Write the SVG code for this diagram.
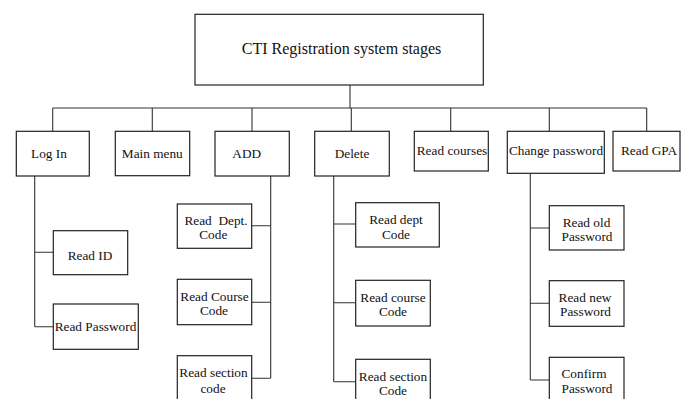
<svg xmlns="http://www.w3.org/2000/svg" width="688" height="399" viewBox="0 0 688 399">
<style>
rect{fill:#fff;stroke:#222;stroke-width:1.2}
.c{fill:none;stroke:#333;stroke-width:1.1}
text{font-family:"Liberation Serif","Times New Roman",serif;font-size:13.3px;fill:#111;text-anchor:middle}
.t{font-size:16px}
</style>
<rect x="0" y="0" width="688" height="399" style="stroke:none"/>
<g id="connectors" class="c">
<path d="M350 85V108M52.7 108H646.7M52.7 108V131.3M152.3 108V131.3M252 108V131.3M351.3 108V131.3M450.7 108V131.3M549.3 108V131.3M646.7 108V131.3"/>
<path d="M34.7 176V326.7M34.7 252.3H53.3M34.7 326.7H53.3"/>
<path d="M270.7 176V378.3M251.7 225.7H270.7M251.7 302.3H270.7M251.7 378.3H270.7"/>
<path d="M333.7 176V381.7M333.7 224H355.7M333.7 302.7H355.7M333.7 381.7H355.7"/>
<path d="M530.3 173.3V380M530.3 228H549.3M530.3 303.3H549.3M530.3 380H549.3"/>
</g>
<g id="root"><rect x="195" y="14.3" width="288.3" height="70.7"/><text class="t" x="341.5" y="53.5">CTI Registration system stages</text></g>
<g id="login"><rect x="16.3" y="131.3" width="73" height="44.7"/><text x="49" y="157.5">Log In</text></g>
<g id="mainmenu"><rect x="115.3" y="131.3" width="74.4" height="44.4"/><text x="152.3" y="158">Main menu</text></g>
<g id="add"><rect x="215" y="131.3" width="74.3" height="44.7"/><text x="246.7" y="157.5">ADD</text></g>
<g id="delete"><rect x="314.7" y="131.3" width="74.6" height="44.7"/><text x="352" y="157.5">Delete</text></g>
<g id="readcourses"><rect x="414.3" y="131.3" width="74" height="39.7"/><text x="452" y="154.5">Read courses</text></g>
<g id="changepassword"><rect x="507.3" y="131.3" width="97" height="42"/><text x="556" y="154.5">Change password</text></g>
<g id="readgpa"><rect x="613" y="131.3" width="67" height="39.7"/><text x="649" y="154.5">Read GPA</text></g>
<g id="readid"><rect x="53.3" y="230.7" width="74.4" height="44"/><text x="90" y="259.5">Read ID</text></g>
<g id="readpassword"><rect x="53.3" y="304" width="85" height="45.3"/><text x="95.5" y="331">Read Password</text></g>
<g id="add-dept"><rect x="177.3" y="204" width="74.4" height="44.3"/><text x="216" y="225" xml:space="preserve">Read  Dept.</text><text x="213.3" y="238.8">Code</text></g>
<g id="add-course"><rect x="177.3" y="279.3" width="74.4" height="45.4"/><text x="214.5" y="301">Read Course</text><text x="214" y="314.8">Code</text></g>
<g id="add-section"><rect x="177.3" y="355.7" width="74.4" height="50"/><text x="213.5" y="376.5">Read section</text><text x="213" y="392.5">code</text></g>
<g id="del-dept"><rect x="355.7" y="202.7" width="83.6" height="44.3"/><text x="396" y="223.5">Read dept</text><text x="396" y="238.5">Code</text></g>
<g id="del-course"><rect x="355.7" y="280.3" width="74.6" height="45.7"/><text x="393" y="301.5">Read course</text><text x="393" y="316">Code</text></g>
<g id="del-section"><rect x="355.7" y="359.3" width="74.6" height="46"/><text x="393" y="380.5">Read section</text><text x="393" y="395">Code</text></g>
<g id="cp-old"><rect x="549.3" y="205.7" width="74.7" height="44.3"/><text x="586.5" y="226.5">Read old</text><text x="587" y="240.5">Password</text></g>
<g id="cp-new"><rect x="549.3" y="280.7" width="74.7" height="45.6"/><text x="585" y="301.5">Read new</text><text x="585.5" y="315.5">Password</text></g>
<g id="cp-confirm"><rect x="549.3" y="357.3" width="74.7" height="48"/><text x="584" y="377.5">Confirm</text><text x="587" y="392.5">Password</text></g>
</svg>
